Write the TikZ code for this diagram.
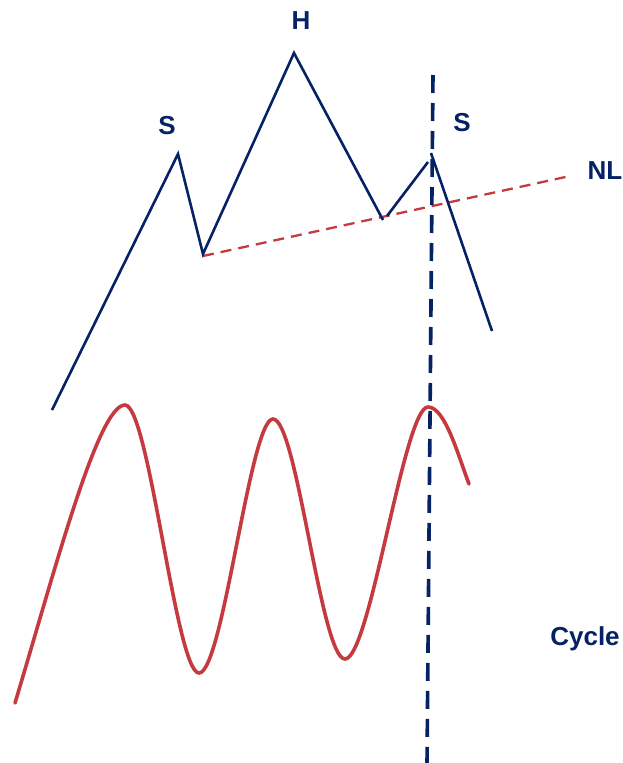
\documentclass[tikz,border=0pt]{standalone}
\usepackage{fontspec}
\setmainfont{Liberation Sans}
\definecolor{navy}{RGB}{4,34,100}
\definecolor{cred}{RGB}{196,58,62}
\tikzset{
  lbl/.style={font=\fontsize{26}{30}\selectfont\bfseries, text=navy, inner sep=0pt},
  price/.style={draw=navy, line width=2.6pt},
  neck/.style={draw=cred, line width=2.3pt, dash pattern=on 11pt off 7pt},
  vline/.style={draw=navy, line width=3.6pt, dash pattern=on 18pt off 10pt},
  cyc/.style={draw=cred, line width=3.6pt, line cap=round}
}
\begin{document}
\begin{tikzpicture}[x=1pt,y=-1pt]
\useasboundingbox (0,0) rectangle (622,763);
% price points
\coordinate (p0) at (52,410);
\coordinate (ls) at (178,154);
\coordinate (t1) at (203,254);
\coordinate (hd) at (294,53);
\coordinate (t2) at (383,220);
\coordinate (t2b) at (387,216);
\coordinate (rs) at (428,162);
\coordinate (rsb) at (431,153);
\coordinate (p9) at (492,331);
\coordinate (n0) at (203,256);
\coordinate (n1) at (570,176);
\coordinate (v0) at (433,75);
\coordinate (v1) at (427,763);
% labels
\node[lbl] (lH) at (301,21) {H};
\node[lbl] (lS1) at (167,126) {S};
\node[lbl] (lS2) at (462,123) {S};
\node[lbl] (lNL) at (605,171) {NL};
\node[lbl] (lC) at (585,639) {Cycle};
% neckline
\draw[neck] (n0) -- (n1);
% price pattern
\draw[price] (p0) -- (ls) -- (t1) -- (hd) -- (t2);
\draw[price] (t2b) -- (rs);
\draw[price] (rsb) -- (p9);
% vertical line
\draw[vline] (v0) -- (v1);
% cycle
\coordinate (c0) at (15,703);
\coordinate (c1) at (125,405);
\coordinate (c2) at (199,673);
\coordinate (c3) at (273,419);
\coordinate (c4) at (345,659);
\coordinate (c5) at (428,407);
\coordinate (c6) at (469,484);
\draw[cyc] (c0) .. controls (55,570) and (98,405) .. (c1)
  .. controls (149,405) and (176,673) .. (c2)
  .. controls (223,673) and (250,419) .. (c3)
  .. controls (297,419) and (321,659) .. (c4)
  .. controls (370,659) and (404,407) .. (c5)
  .. controls (445,407) and (458,455) .. (c6);
\end{tikzpicture}
\end{document}
